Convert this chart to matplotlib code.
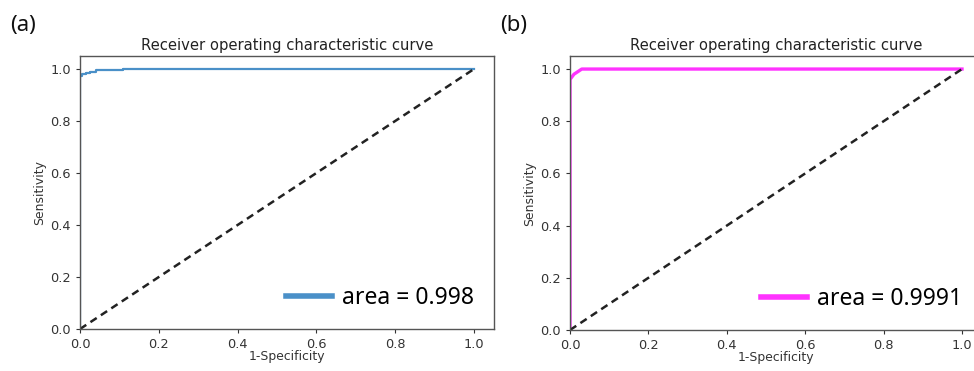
import matplotlib
matplotlib.use("Agg")
import matplotlib.pyplot as plt
from matplotlib.lines import Line2D

# ROC data
fpr_a = [0.0, 0.0, 0.0, 0.005, 0.005, 0.015, 0.015, 0.025, 0.025, 0.04, 0.04, 0.11, 0.11, 1.0]
tpr_a = [0.0, 0.94, 0.975, 0.975, 0.98, 0.98, 0.985, 0.985, 0.99, 0.99, 0.995, 0.995, 1.0, 1.0]
fpr_b = [0.0, 0.0, 0.01, 0.03, 1.0]
tpr_b = [0.0, 0.96, 0.98, 1.0, 1.0]
auc_labels = ["area = 0.998", "area = 0.9991"]
panel_labels = ["(a)", "(b)"]
colors = ["#4a90c8", "#ff33ff"]
title = "Receiver operating characteristic curve"
xlabel = "1-Specificity"
ylabel = "Sensitivity"
ticks = [0.0, 0.2, 0.4, 0.6, 0.8, 1.0]

fig = plt.figure(figsize=(9.74, 3.71), dpi=100)
W, H = 974, 371
positions = [(80, 56, 413.7, 273), (570, 56, 411.6, 274)]
curves = [(fpr_a, tpr_a), (fpr_b, tpr_b)]
lws = [1.6, 2.4]

for i, ((l, t, w, h), (fx, ty)) in enumerate(zip(positions, curves)):
    ax = fig.add_axes([l / W, 1 - (t + h) / H, w / W, h / H])
    ax.plot(fx, ty, color=colors[i], lw=lws[i])
    ax.plot([0, 1], [0, 1], color="#222222", ls="--", lw=1.8, dashes=(3, 2))
    ax.set_xlim(0, 1.05)
    ax.set_ylim(0, 1.05)
    ax.set_xticks(ticks)
    ax.set_yticks(ticks)
    ax.tick_params(labelsize=9.3, colors="#333333", length=3, width=0.8)
    for s in ax.spines.values():
        s.set_color("#555555")
        s.set_linewidth(1.0)
    ax.set_title(title, fontsize=10.6, color="#222222", pad=4)
    ax.set_xlabel(xlabel, fontsize=8.9, color="#333333", labelpad=-1)
    ax.set_ylabel(ylabel, fontsize=8.9, color="#333333", labelpad=3)
    handle = Line2D([0], [0], color=colors[i], lw=4)
    ax.legend([handle], [auc_labels[i]], loc="lower right", frameon=False,
              prop={"family": "Noto Sans", "size": 16.5}, handlelength=2.0,
              handletextpad=0.45, borderaxespad=0.45)
    fig.text((l - 70) / W, 1 - 31 / H, panel_labels[i], fontsize=16,
             family="Noto Sans", color="#111111")

fig.savefig("out.png", dpi=100)
